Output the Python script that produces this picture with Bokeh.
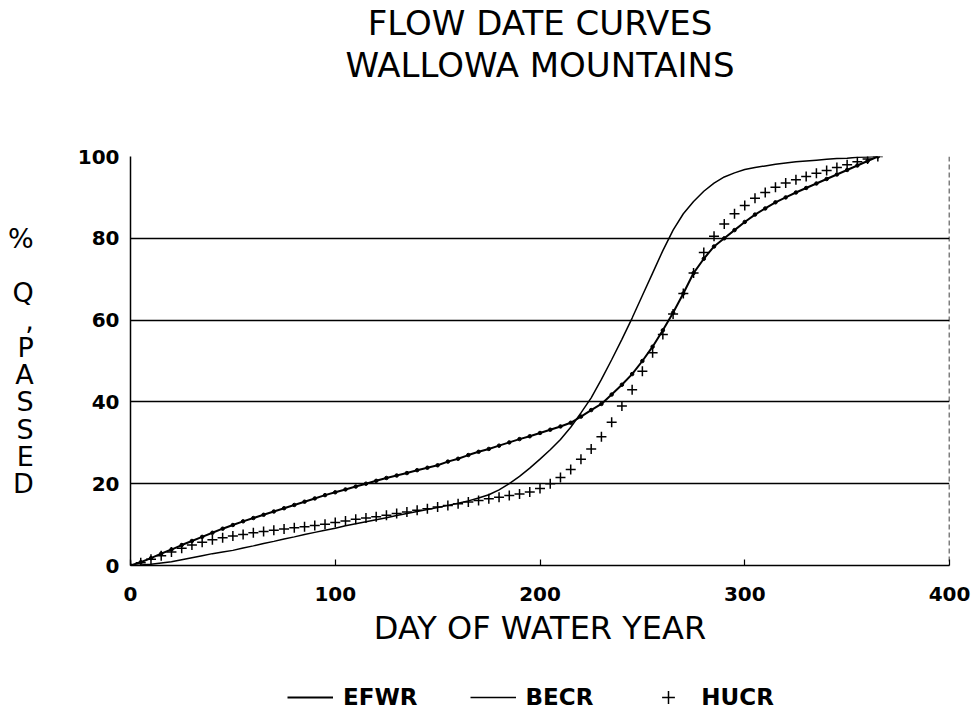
from bokeh.plotting import figure
from bokeh.layouts import column
from bokeh.models import Range1d, FixedTicker, Legend, LegendItem, Span, Title
from bokeh.embed import file_html
from bokeh.resources import INLINE

# ---- data ----
days = [0, 5, 10, 15, 20, 25, 30, 35, 40, 45,
        50, 55, 60, 65, 70, 75, 80, 85, 90, 95,
        100, 105, 110, 115, 120, 125, 130, 135, 140, 145,
        150, 155, 160, 165, 170, 175, 180, 185, 190, 195,
        200, 205, 210, 215, 220, 225, 230, 235, 240, 245,
        250, 255, 260, 265, 270, 275, 280, 285, 290, 295,
        300, 305, 310, 315, 320, 325, 330, 335, 340, 345,
        350, 355, 360, 365]

efwr = [0.0, 0.8, 1.8, 2.9, 3.9, 5.0, 6.0, 7.0, 8.0, 9.0,
        9.9, 10.8, 11.6, 12.4, 13.2, 14.0, 14.8, 15.6, 16.4, 17.2,
        17.9, 18.6, 19.3, 20.0, 20.7, 21.4, 22.0, 22.6, 23.3, 23.9,
        24.5, 25.4, 26.1, 27.0, 27.8, 28.5, 29.3, 30.1, 30.9, 31.6,
        32.4, 33.2, 34.0, 34.9, 36.4, 38.0, 39.5, 41.8, 44.2, 46.8,
        50.0, 53.5, 57.5, 61.8, 66.5, 71.5, 75.0, 78.0, 80.0, 82.0,
        84.0, 85.8, 87.3, 88.8, 90.0, 91.2, 92.3, 93.4, 94.5, 95.6,
        96.7, 97.8, 98.9, 100.0]

becr = [0.0, 0.1, 0.3, 0.6, 0.9, 1.4, 1.9, 2.4, 2.9, 3.3,
        3.7, 4.3, 4.8, 5.4, 5.9, 6.5, 7.0, 7.6, 8.1, 8.6,
        9.1, 9.7, 10.2, 10.7, 11.2, 11.7, 12.2, 12.7, 13.2, 13.7,
        14.2, 14.7, 15.2, 15.8, 16.5, 17.3, 18.5, 20.0, 21.8, 23.8,
        26.0, 28.3, 30.8, 33.8, 37.3, 41.0, 45.5, 50.3, 55.3, 60.5,
        66.0, 71.5, 77.0, 82.0, 86.0, 89.0, 91.5, 93.5, 95.0, 96.0,
        96.8, 97.3, 97.7, 98.1, 98.4, 98.7, 98.9, 99.1, 99.3, 99.5,
        99.6, 99.8, 99.9, 100.0]

hucr = [0.0, 0.7, 1.5, 2.4, 3.3, 4.2, 5.0, 5.7, 6.3, 6.8,
        7.2, 7.6, 8.0, 8.3, 8.6, 8.9, 9.2, 9.5, 9.8, 10.1,
        10.5, 10.9, 11.3, 11.6, 11.9, 12.3, 12.7, 13.1, 13.5, 13.9,
        14.3, 14.7, 15.1, 15.5, 15.9, 16.3, 16.7, 17.1, 17.5, 18.0,
        18.8, 20.0, 21.5, 23.5, 26.0, 28.5, 31.5, 35.0, 39.0, 43.0,
        47.5, 52.0, 56.5, 61.5, 66.5, 71.5, 76.5, 80.5, 83.5, 86.0,
        88.0, 89.8, 91.2, 92.5, 93.5, 94.3, 95.1, 95.9, 96.6, 97.3,
        98.0, 98.7, 99.4, 100.0]

x_ticks = [0, 100, 200, 300, 400]
y_ticks = [0, 20, 40, 60, 80, 100]
title_lines = ["FLOW DATE CURVES", "WALLOWA MOUNTAINS"]
x_title = "DAY OF WATER YEAR"
y_title_lines = ["%", "", "Q", ",", "P", "A", "S", "S", "E", "D"]
series_names = ["EFWR", "BECR", "HUCR"]

HAS_STANDOFF = "standoff" in Title.properties()


def blank_fig(h, top):
    f = figure(width=977, height=h, x_range=Range1d(0, 1), y_range=Range1d(0, 1),
               output_backend="svg", toolbar_location=None, title=None,
               min_border_left=130, min_border_right=28,
               min_border_top=top, min_border_bottom=0)
    f.axis.visible = False
    f.grid.visible = False
    f.outline_line_color = None
    f.background_fill_color = "white"
    f.border_fill_color = "white"
    return f


# ---------------- title strip (two centred single-line titles) ----------------
head = blank_fig(100, 78)
for line_text in reversed(title_lines):      # first added sits next to the frame
    t = Title(text=line_text, align="center", text_font="DejaVu Sans",
              text_font_style="normal", text_font_size="34px", text_color="black")
    if HAS_STANDOFF:
        t.standoff = 0
    head.add_layout(t, "above")

# ---------------- main chart ----------------
p = figure(width=977, height=570,
           x_range=Range1d(0, 400), y_range=Range1d(0, 100),
           output_backend="svg", toolbar_location=None, title=None,
           min_border_left=130, min_border_right=28,
           min_border_top=56, min_border_bottom=105)

p.background_fill_color = "white"
p.border_fill_color = "white"
p.outline_line_color = None

# axes
p.xaxis.ticker = FixedTicker(ticks=x_ticks)
p.yaxis.ticker = FixedTicker(ticks=y_ticks)
for ax in (p.xaxis, p.yaxis):
    ax.axis_line_color = "black"
    ax.axis_line_width = 1.5
    ax.major_tick_line_color = "black"
    ax.major_tick_line_width = 1.2
    ax.minor_tick_line_color = None
    ax.major_label_text_font = "DejaVu Sans"
    ax.major_label_text_font_style = "bold"
    ax.major_label_text_font_size = "20px"
    ax.major_label_text_color = "black"
p.xaxis.major_tick_in = 6
p.xaxis.major_tick_out = 0
p.yaxis.major_tick_in = 0
p.yaxis.major_tick_out = 0
p.xaxis.major_label_standoff = 21
p.yaxis.major_label_standoff = 11

p.xaxis.axis_label = x_title
p.xaxis.axis_label_text_font = "DejaVu Sans"
p.xaxis.axis_label_text_font_style = "normal"
p.xaxis.axis_label_text_font_size = "32px"
p.xaxis.axis_label_text_color = "black"
p.xaxis.axis_label_standoff = 5

# stacked, horizontal y-axis title
p.yaxis.axis_label = "\n".join(y_title_lines)
p.yaxis.axis_label_orientation = "horizontal"
p.yaxis.axis_label_text_font = "DejaVu Sans"
p.yaxis.axis_label_text_font_style = "normal"
p.yaxis.axis_label_text_font_size = "27px"
p.yaxis.axis_label_text_color = "black"
p.yaxis.axis_label_text_line_height = 0.88
p.yaxis.axis_label_text_align = "center"
p.yaxis.axis_label_standoff = 41

# grid
p.xgrid.visible = False
p.ygrid.grid_line_color = "black"
p.ygrid.grid_line_width = 1.4
p.ygrid.grid_line_alpha = 1.0

# right border (dashed in the scan)
p.add_layout(Span(location=400, dimension="height", line_color="black",
                  line_width=1.5, line_dash="5 3"))

# series
p.line(days, efwr, line_color="black", line_width=2)
p.scatter(days, efwr, marker="circle", size=3.5, fill_color="black", line_color="black")
p.line(days, becr, line_color="black", line_width=1.5)
p.scatter(days, hucr, marker="cross", size=10, line_color="black", line_width=1.5)

# ---------------- legend strip ----------------
lg = figure(width=977, height=43, x_range=Range1d(1000, 1001), y_range=Range1d(1000, 1001),
            output_backend="svg", toolbar_location=None, title=None,
            min_border_left=130, min_border_right=28, min_border_top=0, min_border_bottom=0)
lg.axis.visible = False
lg.grid.visible = False
lg.outline_line_color = None
lg.background_fill_color = "white"
lg.border_fill_color = "white"

# same series, drawn outside this strip's visible range: only their legend keys show
k_efwr = lg.line(days, efwr, line_color="black", line_width=2)
k_becr = lg.line(days, becr, line_color="black", line_width=1.5)
k_hucr = lg.scatter(days, hucr, marker="cross", size=10, line_color="black", line_width=1.5)

legend = Legend(items=[
    LegendItem(label=series_names[0], renderers=[k_efwr]),
    LegendItem(label=series_names[1], renderers=[k_becr]),
    LegendItem(label=series_names[2], renderers=[k_hucr]),
], location=(157, 0), orientation="horizontal")
legend.padding = 0
legend.margin = 0
legend.spacing = 52
legend.glyph_width = 46
legend.glyph_height = 32
legend.label_standoff = 10
legend.border_line_color = None
legend.background_fill_alpha = 0
legend.label_text_font = "DejaVu Sans"
legend.label_text_font_style = "bold"
legend.label_text_font_size = "23px"
legend.label_text_color = "black"
lg.add_layout(legend)

layout = column(head, p, lg, spacing=0)
open("out.html", "w").write(file_html(layout, INLINE))
